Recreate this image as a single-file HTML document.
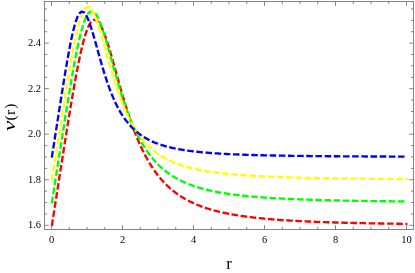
<!DOCTYPE html>
<html><head><meta charset="utf-8"><title>plot</title>
<style>
html,body{margin:0;padding:0;background:#fff;}
body{width:415px;height:273px;overflow:hidden;font-family:"Liberation Serif",serif;}
svg{display:block;will-change:transform;}
text{font-family:"Liberation Serif",serif;fill:#000;}
</style></head><body>
<svg width="415" height="273" viewBox="0 0 415 273">
<rect x="0" y="0" width="415" height="273" fill="#fff"/>
<g fill="none" stroke-width="2.35" stroke-dasharray="6.6 2.572" stroke-linecap="butt" stroke-linejoin="round">
<path d="M51.81 225.89 L51.90 225.30 L52.49 221.50 L53.09 217.71 L53.68 213.91 L54.27 210.12 L54.86 206.32 L55.45 202.53 L56.05 198.73 L56.64 194.93 L57.23 191.14 L57.82 187.35 L58.42 183.55 L59.01 179.76 L59.60 175.97 L60.20 172.18 L60.79 168.40 L61.38 164.62 L61.97 160.84 L62.56 157.06 L63.16 153.29 L63.75 149.53 L64.34 145.78 L64.94 142.03 L65.53 138.29 L66.12 134.57 L66.71 130.86 L67.30 127.16 L67.90 123.48 L68.49 119.81 L69.08 116.17 L69.67 112.55 L70.27 108.95 L70.86 105.38 L71.45 101.84 L72.05 98.33 L72.64 94.85 L73.23 91.41 L73.82 88.01 L74.41 84.66 L75.01 81.35 L75.60 78.09 L76.19 74.89 L76.78 71.74 L77.38 68.66 L77.97 65.63 L78.56 62.68 L79.16 59.79 L79.75 56.98 L80.34 54.25 L80.93 51.60 L81.53 49.04 L82.12 46.56 L82.71 44.18 L83.30 41.89 L83.89 39.71 L84.49 37.62 L85.08 35.64 L85.67 33.77 L86.26 32.00 L86.86 30.36 L87.45 28.82 L88.04 27.40 L88.63 26.10 L89.23 24.93 L89.82 23.87 L90.41 22.93 L91.00 22.12 L91.60 21.43 L92.19 20.86 L92.78 20.42 L93.38 20.10 L93.97 19.90 L94.56 19.81 L95.15 19.85 L95.75 20.01 L96.34 20.28 L96.93 20.66 L97.52 21.15 L98.11 21.75 L98.71 22.46 L99.30 23.26 L99.89 24.16 L100.48 25.16 L101.08 26.25 L101.67 27.43 L102.26 28.69 L102.85 30.03 L103.45 31.45 L104.04 32.93 L104.63 34.49 L105.22 36.11 L105.82 37.79 L106.41 39.52 L107.00 41.31 L107.59 43.14 L108.19 45.02 L108.78 46.94 L109.37 48.89 L109.97 50.88 L110.56 52.89 L111.15 54.93 L111.74 57.00 L112.33 59.08 L112.93 61.18 L113.52 63.29 L114.11 65.41 L114.70 67.54 L115.30 69.67 L115.89 71.80 L116.48 73.94 L117.07 76.07 L117.67 78.20 L118.26 80.32 L118.85 82.43 L119.44 84.54 L120.04 86.63 L120.63 88.71 L121.22 90.77 L121.81 92.82 L122.41 94.85 L123.00 96.86 L123.59 98.86 L124.19 100.83 L124.78 102.78 L125.37 104.72 L125.96 106.63 L126.56 108.51 L127.15 110.38 L127.74 112.22 L128.33 114.03 L128.92 115.82 L129.52 117.59 L130.11 119.33 L130.70 121.05 L131.29 122.74 L131.89 124.41 L132.48 126.05 L133.07 127.66 L133.66 129.25 L134.26 130.82 L134.85 132.36 L135.44 133.87 L136.03 135.36 L136.63 136.83 L137.22 138.27 L137.81 139.68 L138.40 141.08 L139.00 142.44 L139.59 143.79 L140.18 145.11 L140.78 146.41 L141.37 147.68 L141.96 148.93 L142.55 150.16 L143.15 151.37 L143.74 152.56 L144.33 153.72 L144.92 154.87 L145.51 155.99 L146.11 157.09 L146.70 158.18 L147.29 159.24 L147.88 160.28 L148.48 161.31 L149.07 162.32 L149.66 163.30 L150.25 164.27 L150.85 165.22 L151.44 166.16 L152.03 167.08 L152.62 167.98 L153.22 168.86 L153.81 169.73 L154.40 170.58 L154.99 171.41 L155.59 172.23 L156.18 173.04 L156.77 173.83 L157.36 174.61 L157.96 175.37 L158.55 176.12 L159.14 176.85 L159.73 177.57 L160.33 178.28 L160.92 178.97 L161.51 179.66 L162.10 180.33 L162.70 180.98 L163.29 181.63 L163.88 182.26 L164.47 182.89 L165.07 183.50 L165.66 184.10 L166.25 184.69 L166.84 185.27 L167.44 185.84 L168.03 186.40 L168.62 186.94 L169.21 187.48 L169.81 188.01 L170.40 188.53 L170.99 189.05 L171.58 189.55 L172.18 190.04 L172.77 190.53 L173.36 191.00 L173.95 191.47 L174.55 191.93 L175.14 192.38 L175.73 192.83 L176.32 193.27 L176.92 193.69 L177.51 194.12 L178.10 194.53 L178.69 194.94 L179.29 195.34 L179.88 195.73 L180.47 196.12 L181.06 196.50 L181.66 196.88 L182.25 197.25 L182.84 197.61 L183.44 197.97 L184.03 198.32 L184.62 198.66 L185.21 199.00 L185.81 199.33 L186.40 199.66 L186.99 199.98 L187.58 200.30 L188.18 200.61 L188.77 200.92 L189.36 201.22 L189.95 201.52 L190.54 201.81 L191.14 202.10 L191.73 202.39 L192.32 202.67 L192.91 202.94 L193.51 203.21 L194.10 203.48 L194.69 203.74 L195.28 204.00 L195.88 204.25 L196.47 204.50 L197.06 204.75 L197.65 204.99 L198.25 205.23 L198.84 205.46 L199.43 205.69 L200.03 205.92 L200.62 206.15 L201.21 206.37 L201.80 206.59 L202.39 206.80 L202.99 207.01 L203.58 207.22 L204.17 207.42 L204.76 207.63 L205.36 207.83 L205.95 208.02 L206.54 208.21 L207.13 208.41 L207.73 208.59 L208.32 208.78 L208.91 208.96 L209.50 209.14 L210.10 209.32 L210.69 209.49 L211.28 209.66 L211.88 209.83 L212.47 210.00 L213.06 210.17 L213.65 210.33 L214.24 210.49 L214.84 210.65 L215.43 210.80 L216.02 210.96 L216.62 211.11 L217.21 211.26 L217.80 211.40 L218.39 211.55 L218.98 211.69 L219.58 211.83 L220.17 211.97 L220.76 212.11 L221.35 212.25 L221.95 212.38 L222.54 212.51 L223.13 212.64 L223.72 212.77 L224.32 212.90 L224.91 213.02 L225.50 213.15 L226.09 213.27 L226.69 213.39 L227.28 213.51 L227.87 213.62 L228.47 213.74 L229.06 213.85 L229.65 213.97 L230.24 214.08 L230.83 214.19 L231.43 214.30 L232.02 214.40 L232.61 214.51 L233.20 214.61 L233.80 214.71 L234.39 214.82 L234.98 214.92 L235.57 215.02 L236.17 215.11 L236.76 215.21 L237.35 215.30 L237.94 215.40 L238.54 215.49 L239.13 215.58 L239.72 215.67 L240.31 215.76 L240.91 215.85 L241.50 215.94 L242.09 216.03 L242.68 216.11 L243.28 216.20 L243.87 216.28 L244.46 216.36 L245.06 216.44 L245.65 216.52 L246.24 216.60 L246.83 216.68 L247.42 216.76 L248.02 216.83 L248.61 216.91 L249.20 216.98 L249.79 217.06 L250.39 217.13 L250.98 217.20 L251.57 217.27 L252.16 217.34 L252.76 217.41 L253.35 217.48 L253.94 217.55 L254.53 217.62 L255.13 217.69 L255.72 217.75 L256.31 217.82 L256.90 217.88 L257.50 217.94 L258.09 218.01 L258.68 218.07 L259.27 218.13 L259.87 218.19 L260.46 218.25 L261.05 218.31 L261.64 218.37 L262.24 218.43 L262.83 218.48 L263.42 218.54 L264.01 218.60 L264.61 218.65 L265.20 218.71 L265.79 218.76 L266.38 218.81 L266.98 218.87 L267.57 218.92 L268.16 218.97 L268.75 219.02 L269.35 219.07 L269.94 219.13 L270.53 219.17 L271.12 219.22 L271.72 219.27 L272.31 219.32 L272.90 219.37 L273.49 219.42 L274.09 219.46 L274.68 219.51 L275.27 219.55 L275.86 219.60 L276.46 219.64 L277.05 219.69 L277.64 219.73 L278.23 219.78 L278.83 219.82 L279.42 219.86 L280.01 219.90 L280.60 219.95 L281.20 219.99 L281.79 220.03 L282.38 220.07 L282.97 220.11 L283.57 220.15 L284.16 220.19 L284.75 220.23 L285.34 220.26 L285.94 220.30 L286.53 220.34 L287.12 220.38 L287.71 220.41 L288.31 220.45 L288.90 220.49 L289.49 220.52 L290.08 220.56 L290.68 220.59 L291.27 220.63 L291.86 220.66 L292.45 220.70 L293.05 220.73 L293.64 220.76 L294.23 220.80 L294.82 220.83 L295.42 220.86 L296.01 220.89 L296.60 220.92 L297.19 220.96 L297.79 220.99 L298.38 221.02 L298.97 221.05 L299.56 221.08 L300.16 221.11 L300.75 221.14 L301.34 221.17 L301.93 221.20 L302.53 221.23 L303.12 221.26 L303.71 221.28 L304.30 221.31 L304.90 221.34 L305.49 221.37 L306.08 221.39 L306.67 221.42 L307.27 221.45 L307.86 221.48 L308.45 221.50 L309.04 221.53 L309.64 221.55 L310.23 221.58 L310.82 221.60 L311.41 221.63 L312.01 221.65 L312.60 221.68 L313.19 221.70 L313.78 221.73 L314.38 221.75 L314.97 221.78 L315.56 221.80 L316.15 221.82 L316.75 221.85 L317.34 221.87 L317.93 221.89 L318.52 221.91 L319.12 221.94 L319.71 221.96 L320.30 221.98 L320.89 222.00 L321.49 222.02 L322.08 222.05 L322.67 222.07 L323.26 222.09 L323.86 222.11 L324.45 222.13 L325.04 222.15 L325.63 222.17 L326.23 222.19 L326.82 222.21 L327.41 222.23 L328.00 222.25 L328.60 222.27 L329.19 222.29 L329.78 222.31 L330.37 222.33 L330.97 222.35 L331.56 222.37 L332.15 222.38 L332.74 222.40 L333.34 222.42 L333.93 222.44 L334.52 222.46 L335.11 222.47 L335.71 222.49 L336.30 222.51 L336.89 222.53 L337.48 222.54 L338.08 222.56 L338.67 222.58 L339.26 222.59 L339.85 222.61 L340.45 222.63 L341.04 222.64 L341.63 222.66 L342.22 222.68 L342.82 222.69 L343.41 222.71 L344.00 222.72 L344.59 222.74 L345.19 222.76 L345.78 222.77 L346.37 222.79 L346.96 222.80 L347.56 222.82 L348.15 222.83 L348.74 222.85 L349.33 222.86 L349.93 222.87 L350.52 222.89 L351.11 222.90 L351.70 222.92 L352.30 222.93 L352.89 222.95 L353.48 222.96 L354.07 222.97 L354.67 222.99 L355.26 223.00 L355.85 223.01 L356.44 223.03 L357.04 223.04 L357.63 223.05 L358.22 223.07 L358.81 223.08 L359.41 223.09 L360.00 223.10 L360.59 223.12 L361.18 223.13 L361.78 223.14 L362.37 223.15 L362.96 223.17 L363.56 223.18 L364.15 223.19 L364.74 223.20 L365.33 223.21 L365.92 223.23 L366.52 223.24 L367.11 223.25 L367.70 223.26 L368.29 223.27 L368.89 223.28 L369.48 223.29 L370.07 223.31 L370.66 223.32 L371.26 223.33 L371.85 223.34 L372.44 223.35 L373.03 223.36 L373.63 223.37 L374.22 223.38 L374.81 223.39 L375.40 223.40 L376.00 223.41 L376.59 223.42 L377.18 223.43 L377.77 223.44 L378.37 223.45 L378.96 223.46 L379.55 223.47 L380.14 223.48 L380.74 223.49 L381.33 223.50 L381.92 223.51 L382.51 223.52 L383.11 223.53 L383.70 223.54 L384.29 223.55 L384.88 223.56 L385.48 223.57 L386.07 223.58 L386.66 223.59 L387.25 223.60 L387.85 223.61 L388.44 223.61 L389.03 223.62 L389.62 223.63 L390.22 223.64 L390.81 223.65 L391.40 223.66 L391.99 223.67 L392.59 223.68 L393.18 223.68 L393.77 223.69 L394.36 223.70 L394.96 223.71 L395.55 223.72 L396.14 223.73 L396.73 223.73 L397.33 223.74 L397.92 223.75 L398.51 223.76 L399.10 223.77 L399.70 223.77 L400.29 223.78 L400.88 223.79 L401.47 223.80 L402.07 223.80 L402.66 223.81 L403.25 223.82 L403.84 223.83 L404.44 223.83 L405.03 223.84 L405.62 223.85 L406.21 223.86 L406.81 223.86 L407.40 223.87" stroke="#ff0000" stroke-dashoffset="0.00"/>
<path d="M51.81 203.12 L51.90 202.53 L52.49 198.74 L53.08 194.95 L53.67 191.16 L54.27 187.37 L54.86 183.58 L55.45 179.80 L56.04 176.01 L56.63 172.22 L57.22 168.43 L57.81 164.65 L58.40 160.86 L59.00 157.08 L59.59 153.30 L60.18 149.52 L60.77 145.75 L61.36 141.98 L61.95 138.21 L62.54 134.45 L63.14 130.70 L63.73 126.95 L64.32 123.22 L64.91 119.50 L65.50 115.79 L66.09 112.09 L66.68 108.41 L67.27 104.75 L67.87 101.11 L68.46 97.50 L69.05 93.91 L69.64 90.35 L70.23 86.82 L70.82 83.33 L71.41 79.87 L72.01 76.46 L72.60 73.09 L73.19 69.77 L73.78 66.50 L74.37 63.28 L74.96 60.13 L75.55 57.04 L76.14 54.02 L76.74 51.07 L77.33 48.20 L77.92 45.40 L78.51 42.70 L79.10 40.08 L79.69 37.55 L80.28 35.12 L80.88 32.79 L81.47 30.57 L82.06 28.45 L82.65 26.45 L83.24 24.55 L83.83 22.78 L84.42 21.13 L85.01 19.60 L85.61 18.20 L86.20 16.92 L86.79 15.77 L87.38 14.76 L87.97 13.87 L88.56 13.11 L89.15 12.49 L89.75 12.00 L90.34 11.64 L90.93 11.41 L91.52 11.30 L92.11 11.33 L92.70 11.48 L93.29 11.75 L93.88 12.14 L94.48 12.66 L95.07 13.28 L95.66 14.02 L96.25 14.86 L96.84 15.81 L97.43 16.85 L98.02 18.00 L98.62 19.23 L99.21 20.55 L99.80 21.95 L100.39 23.43 L100.98 24.98 L101.57 26.60 L102.16 28.28 L102.75 30.02 L103.35 31.82 L103.94 33.66 L104.53 35.55 L105.12 37.48 L105.71 39.45 L106.30 41.45 L106.89 43.48 L107.49 45.54 L108.08 47.61 L108.67 49.70 L109.26 51.81 L109.85 53.93 L110.44 56.05 L111.03 58.18 L111.62 60.31 L112.22 62.44 L112.81 64.57 L113.40 66.69 L113.99 68.80 L114.58 70.90 L115.17 73.00 L115.76 75.07 L116.36 77.13 L116.95 79.18 L117.54 81.21 L118.13 83.21 L118.72 85.20 L119.31 87.17 L119.90 89.11 L120.49 91.03 L121.09 92.93 L121.68 94.80 L122.27 96.64 L122.86 98.46 L123.45 100.26 L124.04 102.03 L124.63 103.77 L125.23 105.48 L125.82 107.17 L126.41 108.83 L127.00 110.46 L127.59 112.07 L128.18 113.65 L128.77 115.20 L129.36 116.73 L129.96 118.23 L130.55 119.70 L131.14 121.14 L131.73 122.56 L132.32 123.96 L132.91 125.32 L133.50 126.67 L134.10 127.98 L134.69 129.28 L135.28 130.55 L135.87 131.79 L136.46 133.01 L137.05 134.21 L137.64 135.38 L138.23 136.53 L138.83 137.66 L139.42 138.77 L140.01 139.86 L140.60 140.92 L141.19 141.96 L141.78 142.99 L142.37 143.99 L142.97 144.97 L143.56 145.94 L144.15 146.88 L144.74 147.81 L145.33 148.72 L145.92 149.61 L146.51 150.48 L147.10 151.34 L147.70 152.18 L148.29 153.00 L148.88 153.80 L149.47 154.59 L150.06 155.37 L150.65 156.13 L151.24 156.87 L151.84 157.60 L152.43 158.32 L153.02 159.02 L153.61 159.71 L154.20 160.38 L154.79 161.04 L155.38 161.69 L155.97 162.33 L156.57 162.95 L157.16 163.57 L157.75 164.17 L158.34 164.75 L158.93 165.33 L159.52 165.90 L160.11 166.45 L160.71 167.00 L161.30 167.53 L161.89 168.06 L162.48 168.57 L163.07 169.08 L163.66 169.57 L164.25 170.06 L164.84 170.54 L165.44 171.01 L166.03 171.47 L166.62 171.92 L167.21 172.36 L167.80 172.79 L168.39 173.22 L168.98 173.64 L169.58 174.05 L170.17 174.46 L170.76 174.85 L171.35 175.24 L171.94 175.62 L172.53 176.00 L173.12 176.37 L173.71 176.73 L174.31 177.09 L174.90 177.44 L175.49 177.78 L176.08 178.12 L176.67 178.45 L177.26 178.77 L177.85 179.09 L178.45 179.41 L179.04 179.72 L179.63 180.02 L180.22 180.32 L180.81 180.61 L181.40 180.90 L181.99 181.19 L182.58 181.46 L183.18 181.74 L183.77 182.01 L184.36 182.27 L184.95 182.53 L185.54 182.79 L186.13 183.04 L186.72 183.29 L187.32 183.53 L187.91 183.77 L188.50 184.01 L189.09 184.24 L189.68 184.47 L190.27 184.69 L190.86 184.91 L191.45 185.13 L192.05 185.34 L192.64 185.55 L193.23 185.76 L193.82 185.96 L194.41 186.16 L195.00 186.36 L195.59 186.56 L196.19 186.75 L196.78 186.93 L197.37 187.12 L197.96 187.30 L198.55 187.48 L199.14 187.66 L199.73 187.83 L200.32 188.00 L200.92 188.17 L201.51 188.34 L202.10 188.50 L202.69 188.66 L203.28 188.82 L203.87 188.98 L204.46 189.13 L205.06 189.28 L205.65 189.43 L206.24 189.58 L206.83 189.73 L207.42 189.87 L208.01 190.01 L208.60 190.15 L209.19 190.29 L209.79 190.42 L210.38 190.55 L210.97 190.68 L211.56 190.81 L212.15 190.94 L212.74 191.07 L213.33 191.19 L213.93 191.31 L214.52 191.43 L215.11 191.55 L215.70 191.67 L216.29 191.78 L216.88 191.90 L217.47 192.01 L218.06 192.12 L218.66 192.23 L219.25 192.33 L219.84 192.44 L220.43 192.54 L221.02 192.65 L221.61 192.75 L222.20 192.85 L222.80 192.95 L223.39 193.05 L223.98 193.14 L224.57 193.24 L225.16 193.33 L225.75 193.42 L226.34 193.51 L226.93 193.60 L227.53 193.69 L228.12 193.78 L228.71 193.87 L229.30 193.95 L229.89 194.04 L230.48 194.12 L231.07 194.20 L231.67 194.28 L232.26 194.36 L232.85 194.44 L233.44 194.52 L234.03 194.60 L234.62 194.67 L235.21 194.75 L235.80 194.82 L236.40 194.90 L236.99 194.97 L237.58 195.04 L238.17 195.11 L238.76 195.18 L239.35 195.25 L239.94 195.32 L240.54 195.38 L241.13 195.45 L241.72 195.52 L242.31 195.58 L242.90 195.64 L243.49 195.71 L244.08 195.77 L244.67 195.83 L245.27 195.89 L245.86 195.95 L246.45 196.01 L247.04 196.07 L247.63 196.13 L248.22 196.18 L248.81 196.24 L249.41 196.30 L250.00 196.35 L250.59 196.41 L251.18 196.46 L251.77 196.51 L252.36 196.57 L252.95 196.62 L253.54 196.67 L254.14 196.72 L254.73 196.77 L255.32 196.82 L255.91 196.87 L256.50 196.92 L257.09 196.97 L257.68 197.01 L258.28 197.06 L258.87 197.11 L259.46 197.15 L260.05 197.20 L260.64 197.24 L261.23 197.29 L261.82 197.33 L262.41 197.38 L263.01 197.42 L263.60 197.46 L264.19 197.50 L264.78 197.55 L265.37 197.59 L265.96 197.63 L266.55 197.67 L267.15 197.71 L267.74 197.75 L268.33 197.78 L268.92 197.82 L269.51 197.86 L270.10 197.90 L270.69 197.94 L271.28 197.97 L271.88 198.01 L272.47 198.05 L273.06 198.08 L273.65 198.12 L274.24 198.15 L274.83 198.19 L275.42 198.22 L276.02 198.25 L276.61 198.29 L277.20 198.32 L277.79 198.35 L278.38 198.39 L278.97 198.42 L279.56 198.45 L280.15 198.48 L280.75 198.51 L281.34 198.54 L281.93 198.57 L282.52 198.60 L283.11 198.63 L283.70 198.66 L284.29 198.69 L284.89 198.72 L285.48 198.75 L286.07 198.78 L286.66 198.81 L287.25 198.84 L287.84 198.86 L288.43 198.89 L289.02 198.92 L289.62 198.94 L290.21 198.97 L290.80 199.00 L291.39 199.02 L291.98 199.05 L292.57 199.07 L293.16 199.10 L293.76 199.12 L294.35 199.15 L294.94 199.17 L295.53 199.20 L296.12 199.22 L296.71 199.25 L297.30 199.27 L297.89 199.29 L298.49 199.32 L299.08 199.34 L299.67 199.36 L300.26 199.38 L300.85 199.41 L301.44 199.43 L302.03 199.45 L302.63 199.47 L303.22 199.49 L303.81 199.51 L304.40 199.54 L304.99 199.56 L305.58 199.58 L306.17 199.60 L306.76 199.62 L307.36 199.64 L307.95 199.66 L308.54 199.68 L309.13 199.70 L309.72 199.72 L310.31 199.74 L310.90 199.75 L311.50 199.77 L312.09 199.79 L312.68 199.81 L313.27 199.83 L313.86 199.85 L314.45 199.86 L315.04 199.88 L315.63 199.90 L316.23 199.92 L316.82 199.94 L317.41 199.95 L318.00 199.97 L318.59 199.99 L319.18 200.00 L319.77 200.02 L320.37 200.04 L320.96 200.05 L321.55 200.07 L322.14 200.09 L322.73 200.10 L323.32 200.12 L323.91 200.13 L324.50 200.15 L325.10 200.16 L325.69 200.18 L326.28 200.19 L326.87 200.21 L327.46 200.22 L328.05 200.24 L328.64 200.25 L329.24 200.27 L329.83 200.28 L330.42 200.30 L331.01 200.31 L331.60 200.32 L332.19 200.34 L332.78 200.35 L333.37 200.37 L333.97 200.38 L334.56 200.39 L335.15 200.41 L335.74 200.42 L336.33 200.43 L336.92 200.44 L337.51 200.46 L338.11 200.47 L338.70 200.48 L339.29 200.50 L339.88 200.51 L340.47 200.52 L341.06 200.53 L341.65 200.54 L342.24 200.56 L342.84 200.57 L343.43 200.58 L344.02 200.59 L344.61 200.60 L345.20 200.62 L345.79 200.63 L346.38 200.64 L346.98 200.65 L347.57 200.66 L348.16 200.67 L348.75 200.68 L349.34 200.69 L349.93 200.71 L350.52 200.72 L351.11 200.73 L351.71 200.74 L352.30 200.75 L352.89 200.76 L353.48 200.77 L354.07 200.78 L354.66 200.79 L355.25 200.80 L355.85 200.81 L356.44 200.82 L357.03 200.83 L357.62 200.84 L358.21 200.85 L358.80 200.86 L359.39 200.87 L359.98 200.88 L360.58 200.89 L361.17 200.90 L361.76 200.91 L362.35 200.91 L362.94 200.92 L363.53 200.93 L364.12 200.94 L364.72 200.95 L365.31 200.96 L365.90 200.97 L366.49 200.98 L367.08 200.99 L367.67 200.99 L368.26 201.00 L368.85 201.01 L369.45 201.02 L370.04 201.03 L370.63 201.04 L371.22 201.05 L371.81 201.05 L372.40 201.06 L372.99 201.07 L373.59 201.08 L374.18 201.09 L374.77 201.09 L375.36 201.10 L375.95 201.11 L376.54 201.12 L377.13 201.12 L377.72 201.13 L378.32 201.14 L378.91 201.15 L379.50 201.15 L380.09 201.16 L380.68 201.17 L381.27 201.18 L381.86 201.18 L382.46 201.19 L383.05 201.20 L383.64 201.21 L384.23 201.21 L384.82 201.22 L385.41 201.23 L386.00 201.23 L386.59 201.24 L387.19 201.25 L387.78 201.25 L388.37 201.26 L388.96 201.27 L389.55 201.27 L390.14 201.28 L390.73 201.29 L391.33 201.29 L391.92 201.30 L392.51 201.31 L393.10 201.31 L393.69 201.32 L394.28 201.32 L394.87 201.33 L395.46 201.34 L396.06 201.34 L396.65 201.35 L397.24 201.35 L397.83 201.36 L398.42 201.37 L399.01 201.37 L399.60 201.38 L400.20 201.38 L400.79 201.39 L401.38 201.40 L401.97 201.40 L402.56 201.41 L403.15 201.41 L403.74 201.42 L404.33 201.42 L404.93 201.43 L405.52 201.44 L406.11 201.44 L406.70 201.45" stroke="#00ff00" stroke-dashoffset="0.00"/>
<path d="M51.81 180.34 L51.90 179.75 L52.49 175.95 L53.09 172.16 L53.68 168.36 L54.27 164.57 L54.86 160.77 L55.45 156.98 L56.05 153.18 L56.64 149.39 L57.23 145.59 L57.82 141.80 L58.42 138.01 L59.01 134.22 L59.60 130.44 L60.20 126.66 L60.79 122.88 L61.38 119.11 L61.97 115.35 L62.56 111.60 L63.16 107.86 L63.75 104.13 L64.34 100.42 L64.94 96.72 L65.53 93.04 L66.12 89.39 L66.71 85.76 L67.30 82.15 L67.90 78.58 L68.49 75.05 L69.08 71.55 L69.67 68.10 L70.27 64.69 L70.86 61.33 L71.45 58.03 L72.05 54.79 L72.64 51.62 L73.23 48.51 L73.82 45.48 L74.41 42.54 L75.01 39.67 L75.60 36.90 L76.19 34.22 L76.78 31.64 L77.38 29.17 L77.97 26.81 L78.56 24.57 L79.16 22.44 L79.75 20.44 L80.34 18.57 L80.93 16.82 L81.53 15.22 L82.12 13.75 L82.71 12.42 L83.30 11.23 L83.89 10.19 L84.49 9.29 L85.08 8.54 L85.67 7.93 L86.26 7.47 L86.86 7.16 L87.45 6.99 L88.04 6.96 L88.63 7.08 L89.23 7.33 L89.82 7.71 L90.41 8.22 L91.00 8.86 L91.60 9.63 L92.19 10.51 L92.78 11.50 L93.38 12.61 L93.97 13.81 L94.56 15.12 L95.15 16.51 L95.75 17.99 L96.34 19.55 L96.93 21.19 L97.52 22.90 L98.11 24.67 L98.71 26.49 L99.30 28.37 L99.89 30.30 L100.48 32.27 L101.08 34.27 L101.67 36.31 L102.26 38.37 L102.85 40.45 L103.45 42.56 L104.04 44.67 L104.63 46.80 L105.22 48.93 L105.82 51.07 L106.41 53.20 L107.00 55.33 L107.59 57.45 L108.19 59.57 L108.78 61.67 L109.37 63.76 L109.97 65.83 L110.56 67.89 L111.15 69.92 L111.74 71.93 L112.33 73.92 L112.93 75.89 L113.52 77.83 L114.11 79.74 L114.70 81.63 L115.30 83.49 L115.89 85.32 L116.48 87.13 L117.07 88.90 L117.67 90.64 L118.26 92.36 L118.85 94.04 L119.44 95.70 L120.04 97.32 L120.63 98.91 L121.22 100.48 L121.81 102.01 L122.41 103.52 L123.00 104.99 L123.59 106.44 L124.19 107.85 L124.78 109.24 L125.37 110.60 L125.96 111.93 L126.56 113.24 L127.15 114.51 L127.74 115.76 L128.33 116.98 L128.92 118.18 L129.52 119.35 L130.11 120.50 L130.70 121.62 L131.29 122.72 L131.89 123.79 L132.48 124.85 L133.07 125.87 L133.66 126.88 L134.26 127.86 L134.85 128.83 L135.44 129.77 L136.03 130.69 L136.63 131.59 L137.22 132.47 L137.81 133.33 L138.40 134.17 L139.00 135.00 L139.59 135.81 L140.18 136.59 L140.78 137.37 L141.37 138.12 L141.96 138.86 L142.55 139.58 L143.15 140.29 L143.74 140.98 L144.33 141.66 L144.92 142.32 L145.51 142.97 L146.11 143.60 L146.70 144.23 L147.29 144.83 L147.88 145.43 L148.48 146.01 L149.07 146.58 L149.66 147.14 L150.25 147.68 L150.85 148.22 L151.44 148.74 L152.03 149.25 L152.62 149.76 L153.22 150.25 L153.81 150.73 L154.40 151.20 L154.99 151.66 L155.59 152.11 L156.18 152.56 L156.77 152.99 L157.36 153.41 L157.96 153.83 L158.55 154.24 L159.14 154.64 L159.73 155.03 L160.33 155.42 L160.92 155.79 L161.51 156.16 L162.10 156.52 L162.70 156.88 L163.29 157.23 L163.88 157.57 L164.47 157.90 L165.07 158.23 L165.66 158.55 L166.25 158.87 L166.84 159.17 L167.44 159.48 L168.03 159.78 L168.62 160.07 L169.21 160.35 L169.81 160.64 L170.40 160.91 L170.99 161.18 L171.58 161.45 L172.18 161.71 L172.77 161.96 L173.36 162.22 L173.95 162.46 L174.55 162.70 L175.14 162.94 L175.73 163.18 L176.32 163.40 L176.92 163.63 L177.51 163.85 L178.10 164.07 L178.69 164.28 L179.29 164.49 L179.88 164.70 L180.47 164.90 L181.06 165.10 L181.66 165.29 L182.25 165.48 L182.84 165.67 L183.44 165.86 L184.03 166.04 L184.62 166.22 L185.21 166.39 L185.81 166.57 L186.40 166.74 L186.99 166.90 L187.58 167.07 L188.18 167.23 L188.77 167.39 L189.36 167.55 L189.95 167.70 L190.54 167.85 L191.14 168.00 L191.73 168.14 L192.32 168.29 L192.91 168.43 L193.51 168.57 L194.10 168.71 L194.69 168.84 L195.28 168.97 L195.88 169.10 L196.47 169.23 L197.06 169.36 L197.65 169.48 L198.25 169.61 L198.84 169.73 L199.43 169.84 L200.03 169.96 L200.62 170.08 L201.21 170.19 L201.80 170.30 L202.39 170.41 L202.99 170.52 L203.58 170.62 L204.17 170.73 L204.76 170.83 L205.36 170.93 L205.95 171.03 L206.54 171.13 L207.13 171.23 L207.73 171.33 L208.32 171.42 L208.91 171.51 L209.50 171.60 L210.10 171.70 L210.69 171.78 L211.28 171.87 L211.88 171.96 L212.47 172.04 L213.06 172.13 L213.65 172.21 L214.24 172.29 L214.84 172.37 L215.43 172.45 L216.02 172.53 L216.62 172.61 L217.21 172.68 L217.80 172.76 L218.39 172.83 L218.98 172.90 L219.58 172.97 L220.17 173.05 L220.76 173.11 L221.35 173.18 L221.95 173.25 L222.54 173.32 L223.13 173.38 L223.72 173.45 L224.32 173.51 L224.91 173.58 L225.50 173.64 L226.09 173.70 L226.69 173.76 L227.28 173.82 L227.87 173.88 L228.47 173.94 L229.06 174.00 L229.65 174.05 L230.24 174.11 L230.83 174.17 L231.43 174.22 L232.02 174.28 L232.61 174.33 L233.20 174.38 L233.80 174.43 L234.39 174.48 L234.98 174.54 L235.57 174.59 L236.17 174.63 L236.76 174.68 L237.35 174.73 L237.94 174.78 L238.54 174.83 L239.13 174.87 L239.72 174.92 L240.31 174.96 L240.91 175.01 L241.50 175.05 L242.09 175.10 L242.68 175.14 L243.28 175.18 L243.87 175.22 L244.46 175.26 L245.06 175.31 L245.65 175.35 L246.24 175.39 L246.83 175.43 L247.42 175.46 L248.02 175.50 L248.61 175.54 L249.20 175.58 L249.79 175.62 L250.39 175.65 L250.98 175.69 L251.57 175.72 L252.16 175.76 L252.76 175.80 L253.35 175.83 L253.94 175.86 L254.53 175.90 L255.13 175.93 L255.72 175.96 L256.31 176.00 L256.90 176.03 L257.50 176.06 L258.09 176.09 L258.68 176.12 L259.27 176.16 L259.87 176.19 L260.46 176.22 L261.05 176.25 L261.64 176.28 L262.24 176.30 L262.83 176.33 L263.42 176.36 L264.01 176.39 L264.61 176.42 L265.20 176.45 L265.79 176.47 L266.38 176.50 L266.98 176.53 L267.57 176.55 L268.16 176.58 L268.75 176.60 L269.35 176.63 L269.94 176.66 L270.53 176.68 L271.12 176.71 L271.72 176.73 L272.31 176.75 L272.90 176.78 L273.49 176.80 L274.09 176.83 L274.68 176.85 L275.27 176.87 L275.86 176.89 L276.46 176.92 L277.05 176.94 L277.64 176.96 L278.23 176.98 L278.83 177.00 L279.42 177.03 L280.01 177.05 L280.60 177.07 L281.20 177.09 L281.79 177.11 L282.38 177.13 L282.97 177.15 L283.57 177.17 L284.16 177.19 L284.75 177.21 L285.34 177.23 L285.94 177.25 L286.53 177.27 L287.12 177.28 L287.71 177.30 L288.31 177.32 L288.90 177.34 L289.49 177.36 L290.08 177.37 L290.68 177.39 L291.27 177.41 L291.86 177.43 L292.45 177.44 L293.05 177.46 L293.64 177.48 L294.23 177.49 L294.82 177.51 L295.42 177.53 L296.01 177.54 L296.60 177.56 L297.19 177.57 L297.79 177.59 L298.38 177.61 L298.97 177.62 L299.56 177.64 L300.16 177.65 L300.75 177.67 L301.34 177.68 L301.93 177.70 L302.53 177.71 L303.12 177.73 L303.71 177.74 L304.30 177.75 L304.90 177.77 L305.49 177.78 L306.08 177.79 L306.67 177.81 L307.27 177.82 L307.86 177.84 L308.45 177.85 L309.04 177.86 L309.64 177.87 L310.23 177.89 L310.82 177.90 L311.41 177.91 L312.01 177.93 L312.60 177.94 L313.19 177.95 L313.78 177.96 L314.38 177.97 L314.97 177.99 L315.56 178.00 L316.15 178.01 L316.75 178.02 L317.34 178.03 L317.93 178.04 L318.52 178.06 L319.12 178.07 L319.71 178.08 L320.30 178.09 L320.89 178.10 L321.49 178.11 L322.08 178.12 L322.67 178.13 L323.26 178.14 L323.86 178.15 L324.45 178.16 L325.04 178.17 L325.63 178.18 L326.23 178.19 L326.82 178.20 L327.41 178.21 L328.00 178.22 L328.60 178.23 L329.19 178.24 L329.78 178.25 L330.37 178.26 L330.97 178.27 L331.56 178.28 L332.15 178.29 L332.74 178.30 L333.34 178.31 L333.93 178.32 L334.52 178.33 L335.11 178.34 L335.71 178.34 L336.30 178.35 L336.89 178.36 L337.48 178.37 L338.08 178.38 L338.67 178.39 L339.26 178.40 L339.85 178.40 L340.45 178.41 L341.04 178.42 L341.63 178.43 L342.22 178.44 L342.82 178.45 L343.41 178.45 L344.00 178.46 L344.59 178.47 L345.19 178.48 L345.78 178.48 L346.37 178.49 L346.96 178.50 L347.56 178.51 L348.15 178.51 L348.74 178.52 L349.33 178.53 L349.93 178.54 L350.52 178.54 L351.11 178.55 L351.70 178.56 L352.30 178.56 L352.89 178.57 L353.48 178.58 L354.07 178.59 L354.67 178.59 L355.26 178.60 L355.85 178.61 L356.44 178.61 L357.04 178.62 L357.63 178.63 L358.22 178.63 L358.81 178.64 L359.41 178.65 L360.00 178.65 L360.59 178.66 L361.18 178.66 L361.78 178.67 L362.37 178.68 L362.96 178.68 L363.56 178.69 L364.15 178.69 L364.74 178.70 L365.33 178.71 L365.92 178.71 L366.52 178.72 L367.11 178.72 L367.70 178.73 L368.29 178.74 L368.89 178.74 L369.48 178.75 L370.07 178.75 L370.66 178.76 L371.26 178.76 L371.85 178.77 L372.44 178.77 L373.03 178.78 L373.63 178.79 L374.22 178.79 L374.81 178.80 L375.40 178.80 L376.00 178.81 L376.59 178.81 L377.18 178.82 L377.77 178.82 L378.37 178.83 L378.96 178.83 L379.55 178.84 L380.14 178.84 L380.74 178.85 L381.33 178.85 L381.92 178.86 L382.51 178.86 L383.11 178.87 L383.70 178.87 L384.29 178.88 L384.88 178.88 L385.48 178.88 L386.07 178.89 L386.66 178.89 L387.25 178.90 L387.85 178.90 L388.44 178.91 L389.03 178.91 L389.62 178.92 L390.22 178.92 L390.81 178.92 L391.40 178.93 L391.99 178.93 L392.59 178.94 L393.18 178.94 L393.77 178.95 L394.36 178.95 L394.96 178.95 L395.55 178.96 L396.14 178.96 L396.73 178.97 L397.33 178.97 L397.92 178.97 L398.51 178.98 L399.10 178.98 L399.70 178.99 L400.29 178.99 L400.88 178.99 L401.47 179.00 L402.07 179.00 L402.66 179.01 L403.25 179.01 L403.84 179.01 L404.44 179.02 L405.03 179.02 L405.62 179.02 L406.21 179.03 L406.81 179.03 L407.40 179.03" stroke="#ffff00" stroke-dashoffset="0.00"/>
<path d="M51.81 157.57 L51.90 156.98 L52.49 153.18 L53.08 149.39 L53.67 145.60 L54.27 141.81 L54.86 138.02 L55.45 134.23 L56.04 130.44 L56.63 126.66 L57.22 122.87 L57.82 119.09 L58.41 115.31 L59.00 111.54 L59.59 107.77 L60.18 104.01 L60.77 100.26 L61.37 96.52 L61.96 92.80 L62.55 89.09 L63.14 85.41 L63.73 81.75 L64.33 78.12 L64.92 74.53 L65.51 70.97 L66.10 67.45 L66.69 63.99 L67.28 60.57 L67.88 57.22 L68.47 53.93 L69.06 50.72 L69.65 47.59 L70.24 44.54 L70.83 41.59 L71.42 38.74 L72.02 36.00 L72.61 33.37 L73.20 30.86 L73.79 28.49 L74.38 26.25 L74.97 24.15 L75.57 22.21 L76.16 20.41 L76.75 18.78 L77.34 17.31 L77.93 16.00 L78.53 14.87 L79.12 13.90 L79.71 13.11 L80.30 12.49 L80.89 12.05 L81.48 11.78 L82.07 11.67 L82.67 11.74 L83.26 11.97 L83.85 12.35 L84.44 12.90 L85.03 13.59 L85.62 14.42 L86.22 15.39 L86.81 16.49 L87.40 17.71 L87.99 19.04 L88.58 20.48 L89.17 22.02 L89.77 23.65 L90.36 25.36 L90.95 27.14 L91.54 28.99 L92.13 30.90 L92.72 32.86 L93.32 34.86 L93.91 36.90 L94.50 38.97 L95.09 41.06 L95.68 43.17 L96.28 45.29 L96.87 47.42 L97.46 49.56 L98.05 51.69 L98.64 53.81 L99.23 55.92 L99.82 58.02 L100.42 60.10 L101.01 62.16 L101.60 64.20 L102.19 66.21 L102.78 68.20 L103.38 70.16 L103.97 72.08 L104.56 73.98 L105.15 75.84 L105.74 77.67 L106.33 79.47 L106.92 81.23 L107.52 82.96 L108.11 84.65 L108.70 86.30 L109.29 87.92 L109.88 89.50 L110.47 91.05 L111.07 92.56 L111.66 94.04 L112.25 95.48 L112.84 96.89 L113.43 98.26 L114.02 99.60 L114.62 100.91 L115.21 102.19 L115.80 103.43 L116.39 104.64 L116.98 105.82 L117.57 106.98 L118.17 108.10 L118.76 109.19 L119.35 110.26 L119.94 111.30 L120.53 112.31 L121.12 113.30 L121.72 114.26 L122.31 115.19 L122.90 116.10 L123.49 116.99 L124.08 117.85 L124.67 118.70 L125.27 119.52 L125.86 120.32 L126.45 121.10 L127.04 121.85 L127.63 122.59 L128.22 123.31 L128.82 124.02 L129.41 124.70 L130.00 125.37 L130.59 126.02 L131.18 126.65 L131.78 127.27 L132.37 127.87 L132.96 128.45 L133.55 129.03 L134.14 129.58 L134.73 130.13 L135.32 130.66 L135.92 131.17 L136.51 131.68 L137.10 132.17 L137.69 132.65 L138.28 133.12 L138.88 133.57 L139.47 134.02 L140.06 134.45 L140.65 134.88 L141.24 135.29 L141.83 135.69 L142.42 136.09 L143.02 136.47 L143.61 136.85 L144.20 137.22 L144.79 137.58 L145.38 137.93 L145.97 138.27 L146.57 138.60 L147.16 138.93 L147.75 139.25 L148.34 139.56 L148.93 139.87 L149.53 140.16 L150.12 140.46 L150.71 140.74 L151.30 141.02 L151.89 141.29 L152.48 141.56 L153.07 141.82 L153.67 142.07 L154.26 142.32 L154.85 142.57 L155.44 142.80 L156.03 143.04 L156.62 143.27 L157.22 143.49 L157.81 143.71 L158.40 143.92 L158.99 144.13 L159.58 144.34 L160.18 144.54 L160.77 144.74 L161.36 144.93 L161.95 145.12 L162.54 145.30 L163.13 145.48 L163.72 145.66 L164.32 145.84 L164.91 146.01 L165.50 146.17 L166.09 146.34 L166.68 146.50 L167.27 146.66 L167.87 146.81 L168.46 146.96 L169.05 147.11 L169.64 147.25 L170.23 147.40 L170.82 147.54 L171.42 147.67 L172.01 147.81 L172.60 147.94 L173.19 148.07 L173.78 148.20 L174.37 148.32 L174.97 148.44 L175.56 148.57 L176.15 148.68 L176.74 148.80 L177.33 148.91 L177.93 149.02 L178.52 149.13 L179.11 149.24 L179.70 149.35 L180.29 149.45 L180.88 149.55 L181.47 149.65 L182.07 149.75 L182.66 149.85 L183.25 149.94 L183.84 150.03 L184.43 150.13 L185.03 150.22 L185.62 150.30 L186.21 150.39 L186.80 150.48 L187.39 150.56 L187.98 150.64 L188.57 150.72 L189.17 150.80 L189.76 150.88 L190.35 150.96 L190.94 151.04 L191.53 151.11 L192.13 151.18 L192.72 151.26 L193.31 151.33 L193.90 151.40 L194.49 151.46 L195.08 151.53 L195.67 151.60 L196.27 151.66 L196.86 151.73 L197.45 151.79 L198.04 151.85 L198.63 151.91 L199.22 151.98 L199.82 152.03 L200.41 152.09 L201.00 152.15 L201.59 152.21 L202.18 152.26 L202.77 152.32 L203.37 152.37 L203.96 152.42 L204.55 152.48 L205.14 152.53 L205.73 152.58 L206.33 152.63 L206.92 152.68 L207.51 152.73 L208.10 152.78 L208.69 152.82 L209.28 152.87 L209.87 152.91 L210.47 152.96 L211.06 153.00 L211.65 153.05 L212.24 153.09 L212.83 153.13 L213.43 153.18 L214.02 153.22 L214.61 153.26 L215.20 153.30 L215.79 153.34 L216.38 153.38 L216.97 153.41 L217.57 153.45 L218.16 153.49 L218.75 153.53 L219.34 153.56 L219.93 153.60 L220.53 153.63 L221.12 153.67 L221.71 153.70 L222.30 153.74 L222.89 153.77 L223.48 153.80 L224.07 153.83 L224.67 153.87 L225.26 153.90 L225.85 153.93 L226.44 153.96 L227.03 153.99 L227.62 154.02 L228.22 154.05 L228.81 154.08 L229.40 154.11 L229.99 154.14 L230.58 154.16 L231.17 154.19 L231.77 154.22 L232.36 154.25 L232.95 154.27 L233.54 154.30 L234.13 154.33 L234.73 154.35 L235.32 154.38 L235.91 154.40 L236.50 154.43 L237.09 154.45 L237.68 154.47 L238.27 154.50 L238.87 154.52 L239.46 154.54 L240.05 154.57 L240.64 154.59 L241.23 154.61 L241.83 154.63 L242.42 154.66 L243.01 154.68 L243.60 154.70 L244.19 154.72 L244.78 154.74 L245.38 154.76 L245.97 154.78 L246.56 154.80 L247.15 154.82 L247.74 154.84 L248.33 154.86 L248.93 154.88 L249.52 154.90 L250.11 154.91 L250.70 154.93 L251.29 154.95 L251.88 154.97 L252.47 154.99 L253.07 155.00 L253.66 155.02 L254.25 155.04 L254.84 155.05 L255.43 155.07 L256.03 155.09 L256.62 155.10 L257.21 155.12 L257.80 155.14 L258.39 155.15 L258.98 155.17 L259.57 155.18 L260.17 155.20 L260.76 155.21 L261.35 155.23 L261.94 155.24 L262.53 155.26 L263.12 155.27 L263.72 155.29 L264.31 155.30 L264.90 155.31 L265.49 155.33 L266.08 155.34 L266.67 155.35 L267.27 155.37 L267.86 155.38 L268.45 155.39 L269.04 155.41 L269.63 155.42 L270.22 155.43 L270.82 155.44 L271.41 155.46 L272.00 155.47 L272.59 155.48 L273.18 155.49 L273.77 155.50 L274.37 155.52 L274.96 155.53 L275.55 155.54 L276.14 155.55 L276.73 155.56 L277.32 155.57 L277.92 155.58 L278.51 155.60 L279.10 155.61 L279.69 155.62 L280.28 155.63 L280.87 155.64 L281.47 155.65 L282.06 155.66 L282.65 155.67 L283.24 155.68 L283.83 155.69 L284.43 155.70 L285.02 155.71 L285.61 155.72 L286.20 155.73 L286.79 155.74 L287.38 155.75 L287.97 155.75 L288.57 155.76 L289.16 155.77 L289.75 155.78 L290.34 155.79 L290.93 155.80 L291.52 155.81 L292.12 155.82 L292.71 155.82 L293.30 155.83 L293.89 155.84 L294.48 155.85 L295.07 155.86 L295.67 155.87 L296.26 155.87 L296.85 155.88 L297.44 155.89 L298.03 155.90 L298.62 155.91 L299.22 155.91 L299.81 155.92 L300.40 155.93 L300.99 155.94 L301.58 155.94 L302.17 155.95 L302.77 155.96 L303.36 155.96 L303.95 155.97 L304.54 155.98 L305.13 155.99 L305.72 155.99 L306.32 156.00 L306.91 156.01 L307.50 156.01 L308.09 156.02 L308.68 156.03 L309.27 156.03 L309.87 156.04 L310.46 156.05 L311.05 156.05 L311.64 156.06 L312.23 156.06 L312.82 156.07 L313.42 156.08 L314.01 156.08 L314.60 156.09 L315.19 156.09 L315.78 156.10 L316.37 156.11 L316.97 156.11 L317.56 156.12 L318.15 156.12 L318.74 156.13 L319.33 156.14 L319.92 156.14 L320.52 156.15 L321.11 156.15 L321.70 156.16 L322.29 156.16 L322.88 156.17 L323.47 156.17 L324.07 156.18 L324.66 156.18 L325.25 156.19 L325.84 156.19 L326.43 156.20 L327.02 156.20 L327.62 156.21 L328.21 156.21 L328.80 156.22 L329.39 156.22 L329.98 156.23 L330.57 156.23 L331.17 156.24 L331.76 156.24 L332.35 156.25 L332.94 156.25 L333.53 156.26 L334.12 156.26 L334.72 156.26 L335.31 156.27 L335.90 156.27 L336.49 156.28 L337.08 156.28 L337.67 156.29 L338.27 156.29 L338.86 156.30 L339.45 156.30 L340.04 156.30 L340.63 156.31 L341.22 156.31 L341.82 156.32 L342.41 156.32 L343.00 156.32 L343.59 156.33 L344.18 156.33 L344.77 156.34 L345.37 156.34 L345.96 156.34 L346.55 156.35 L347.14 156.35 L347.73 156.35 L348.32 156.36 L348.92 156.36 L349.51 156.37 L350.10 156.37 L350.69 156.37 L351.28 156.38 L351.87 156.38 L352.47 156.38 L353.06 156.39 L353.65 156.39 L354.24 156.39 L354.83 156.40 L355.42 156.40 L356.02 156.40 L356.61 156.41 L357.20 156.41 L357.79 156.41 L358.38 156.42 L358.97 156.42 L359.57 156.42 L360.16 156.43 L360.75 156.43 L361.34 156.43 L361.93 156.44 L362.52 156.44 L363.12 156.44 L363.71 156.44 L364.30 156.45 L364.89 156.45 L365.48 156.45 L366.07 156.46 L366.67 156.46 L367.26 156.46 L367.85 156.47 L368.44 156.47 L369.03 156.47 L369.62 156.47 L370.22 156.48 L370.81 156.48 L371.40 156.48 L371.99 156.49 L372.58 156.49 L373.17 156.49 L373.77 156.49 L374.36 156.50 L374.95 156.50 L375.54 156.50 L376.13 156.50 L376.72 156.51 L377.32 156.51 L377.91 156.51 L378.50 156.51 L379.09 156.52 L379.68 156.52 L380.27 156.52 L380.87 156.52 L381.46 156.53 L382.05 156.53 L382.64 156.53 L383.23 156.53 L383.82 156.54 L384.42 156.54 L385.01 156.54 L385.60 156.54 L386.19 156.54 L386.78 156.55 L387.37 156.55 L387.97 156.55 L388.56 156.55 L389.15 156.56 L389.74 156.56 L390.33 156.56 L390.92 156.56 L391.52 156.56 L392.11 156.57 L392.70 156.57 L393.29 156.57 L393.88 156.57 L394.47 156.58 L395.07 156.58 L395.66 156.58 L396.25 156.58 L396.84 156.58 L397.43 156.59 L398.02 156.59 L398.62 156.59 L399.21 156.59 L399.80 156.59 L400.39 156.60 L400.98 156.60 L401.57 156.60 L402.17 156.60 L402.76 156.60 L403.35 156.60 L403.94 156.61 L404.53 156.61 L405.12 156.61 L405.72 156.61 L406.31 156.61 L406.90 156.62" stroke="#0000ff" stroke-dashoffset="0.00"/>
</g>
<g stroke="#666" stroke-width="0.8" fill="none">
<line x1="51.50" y1="229.50" x2="51.50" y2="225.20"/>
<line x1="51.50" y1="1.50" x2="51.50" y2="5.80"/>
<line x1="69.25" y1="229.50" x2="69.25" y2="226.90"/>
<line x1="69.25" y1="1.50" x2="69.25" y2="4.10"/>
<line x1="87.00" y1="229.50" x2="87.00" y2="226.90"/>
<line x1="87.00" y1="1.50" x2="87.00" y2="4.10"/>
<line x1="104.75" y1="229.50" x2="104.75" y2="226.90"/>
<line x1="104.75" y1="1.50" x2="104.75" y2="4.10"/>
<line x1="122.50" y1="229.50" x2="122.50" y2="225.20"/>
<line x1="122.50" y1="1.50" x2="122.50" y2="5.80"/>
<line x1="140.25" y1="229.50" x2="140.25" y2="226.90"/>
<line x1="140.25" y1="1.50" x2="140.25" y2="4.10"/>
<line x1="158.00" y1="229.50" x2="158.00" y2="226.90"/>
<line x1="158.00" y1="1.50" x2="158.00" y2="4.10"/>
<line x1="175.75" y1="229.50" x2="175.75" y2="226.90"/>
<line x1="175.75" y1="1.50" x2="175.75" y2="4.10"/>
<line x1="193.50" y1="229.50" x2="193.50" y2="225.20"/>
<line x1="193.50" y1="1.50" x2="193.50" y2="5.80"/>
<line x1="211.25" y1="229.50" x2="211.25" y2="226.90"/>
<line x1="211.25" y1="1.50" x2="211.25" y2="4.10"/>
<line x1="229.00" y1="229.50" x2="229.00" y2="226.90"/>
<line x1="229.00" y1="1.50" x2="229.00" y2="4.10"/>
<line x1="246.75" y1="229.50" x2="246.75" y2="226.90"/>
<line x1="246.75" y1="1.50" x2="246.75" y2="4.10"/>
<line x1="264.50" y1="229.50" x2="264.50" y2="225.20"/>
<line x1="264.50" y1="1.50" x2="264.50" y2="5.80"/>
<line x1="282.25" y1="229.50" x2="282.25" y2="226.90"/>
<line x1="282.25" y1="1.50" x2="282.25" y2="4.10"/>
<line x1="300.00" y1="229.50" x2="300.00" y2="226.90"/>
<line x1="300.00" y1="1.50" x2="300.00" y2="4.10"/>
<line x1="317.75" y1="229.50" x2="317.75" y2="226.90"/>
<line x1="317.75" y1="1.50" x2="317.75" y2="4.10"/>
<line x1="335.50" y1="229.50" x2="335.50" y2="225.20"/>
<line x1="335.50" y1="1.50" x2="335.50" y2="5.80"/>
<line x1="353.25" y1="229.50" x2="353.25" y2="226.90"/>
<line x1="353.25" y1="1.50" x2="353.25" y2="4.10"/>
<line x1="371.00" y1="229.50" x2="371.00" y2="226.90"/>
<line x1="371.00" y1="1.50" x2="371.00" y2="4.10"/>
<line x1="388.75" y1="229.50" x2="388.75" y2="226.90"/>
<line x1="388.75" y1="1.50" x2="388.75" y2="4.10"/>
<line x1="406.50" y1="229.50" x2="406.50" y2="225.20"/>
<line x1="406.50" y1="1.50" x2="406.50" y2="5.80"/>
<line x1="44.50" y1="225.30" x2="48.80" y2="225.30"/>
<line x1="413.50" y1="225.30" x2="409.20" y2="225.30"/>
<line x1="44.50" y1="213.91" x2="47.10" y2="213.91"/>
<line x1="413.50" y1="213.91" x2="410.90" y2="213.91"/>
<line x1="44.50" y1="202.52" x2="47.10" y2="202.52"/>
<line x1="413.50" y1="202.52" x2="410.90" y2="202.52"/>
<line x1="44.50" y1="191.14" x2="47.10" y2="191.14"/>
<line x1="413.50" y1="191.14" x2="410.90" y2="191.14"/>
<line x1="44.50" y1="179.75" x2="48.80" y2="179.75"/>
<line x1="413.50" y1="179.75" x2="409.20" y2="179.75"/>
<line x1="44.50" y1="168.36" x2="47.10" y2="168.36"/>
<line x1="413.50" y1="168.36" x2="410.90" y2="168.36"/>
<line x1="44.50" y1="156.97" x2="47.10" y2="156.97"/>
<line x1="413.50" y1="156.97" x2="410.90" y2="156.97"/>
<line x1="44.50" y1="145.59" x2="47.10" y2="145.59"/>
<line x1="413.50" y1="145.59" x2="410.90" y2="145.59"/>
<line x1="44.50" y1="134.20" x2="48.80" y2="134.20"/>
<line x1="413.50" y1="134.20" x2="409.20" y2="134.20"/>
<line x1="44.50" y1="122.81" x2="47.10" y2="122.81"/>
<line x1="413.50" y1="122.81" x2="410.90" y2="122.81"/>
<line x1="44.50" y1="111.43" x2="47.10" y2="111.43"/>
<line x1="413.50" y1="111.43" x2="410.90" y2="111.43"/>
<line x1="44.50" y1="100.04" x2="47.10" y2="100.04"/>
<line x1="413.50" y1="100.04" x2="410.90" y2="100.04"/>
<line x1="44.50" y1="88.65" x2="48.80" y2="88.65"/>
<line x1="413.50" y1="88.65" x2="409.20" y2="88.65"/>
<line x1="44.50" y1="77.26" x2="47.10" y2="77.26"/>
<line x1="413.50" y1="77.26" x2="410.90" y2="77.26"/>
<line x1="44.50" y1="65.87" x2="47.10" y2="65.87"/>
<line x1="413.50" y1="65.87" x2="410.90" y2="65.87"/>
<line x1="44.50" y1="54.49" x2="47.10" y2="54.49"/>
<line x1="413.50" y1="54.49" x2="410.90" y2="54.49"/>
<line x1="44.50" y1="43.10" x2="48.80" y2="43.10"/>
<line x1="413.50" y1="43.10" x2="409.20" y2="43.10"/>
<line x1="44.50" y1="31.71" x2="47.10" y2="31.71"/>
<line x1="413.50" y1="31.71" x2="410.90" y2="31.71"/>
<line x1="44.50" y1="20.33" x2="47.10" y2="20.33"/>
<line x1="413.50" y1="20.33" x2="410.90" y2="20.33"/>
<line x1="44.50" y1="8.94" x2="47.10" y2="8.94"/>
<line x1="413.50" y1="8.94" x2="410.90" y2="8.94"/>
</g>
<rect x="44.5" y="1.5" width="369.0" height="228.0" fill="none" stroke="#666" stroke-width="0.8"/>
<g font-size="10.5px">
<text x="51.50" y="242.5" text-anchor="middle">0</text>
<text x="122.50" y="242.5" text-anchor="middle">2</text>
<text x="193.50" y="242.5" text-anchor="middle">4</text>
<text x="264.50" y="242.5" text-anchor="middle">6</text>
<text x="335.50" y="242.5" text-anchor="middle">8</text>
<text x="406.50" y="242.5" text-anchor="middle">10</text>
<text x="41" y="228.30" text-anchor="end">1.6</text>
<text x="41" y="182.75" text-anchor="end">1.8</text>
<text x="41" y="137.20" text-anchor="end">2.0</text>
<text x="41" y="91.65" text-anchor="end">2.2</text>
<text x="41" y="46.10" text-anchor="end">2.4</text>
</g>
<text x="229" y="269" font-size="17px" text-anchor="middle">r</text>
<g transform="translate(14.8,117.3) rotate(-90)" font-size="15.5px" text-anchor="middle">
<text transform="translate(-8.65,0) scale(1.4,1)" font-style="italic" font-size="16.5px">&#957;</text>
<text x="-0.7" y="0">(</text>
<text x="4.85" y="0">r</text>
<text x="11.1" y="0">)</text>
</g>
</svg>
</body></html>
